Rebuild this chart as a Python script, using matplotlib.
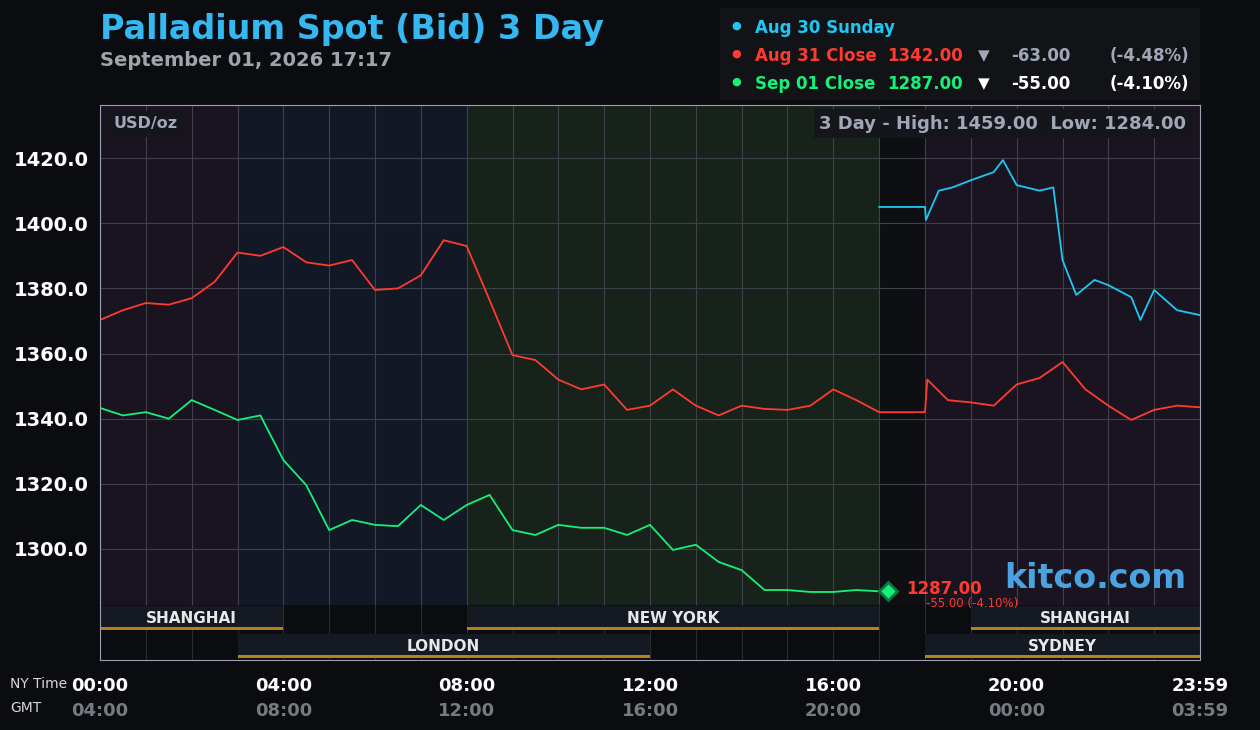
import matplotlib
matplotlib.use("Agg")
import matplotlib.pyplot as plt
import numpy as np

# hours (NY time) and prices
red_t = [0, 0.5, 1, 1.5, 2, 2.5, 3, 3.5, 4, 4.5, 5, 5.5, 6, 6.5, 7, 7.5, 8, 8.5, 9,
         9.5, 10, 10.5, 11, 11.5, 12, 12.5, 13, 13.5, 14, 14.5, 15, 15.5, 16, 16.5,
         17, 18, 18.05, 18.5, 19, 19.5, 20, 20.5, 21, 21.5, 22, 22.5, 23, 23.5, 24]
red_p = [1370.3, 1373.3, 1375.5, 1375.0, 1377.0, 1382.0, 1391.0, 1390.0, 1392.7,
         1388.0, 1387.0, 1388.7, 1379.5, 1380.0, 1384.0, 1394.8, 1393.0, 1376.4,
         1359.5, 1358.0, 1352.0, 1349.0, 1350.5, 1342.7, 1344.0, 1349.0, 1344.0,
         1341.0, 1344.0, 1343.0, 1342.7, 1344.0, 1349.0, 1345.7, 1342.0, 1342.0,
         1352.0, 1345.7, 1345.0, 1344.0, 1350.5, 1352.5, 1357.4, 1349.0, 1344.0,
         1339.6, 1342.7, 1344.0, 1343.5]
green_t = [0, 0.5, 1, 1.5, 2, 2.5, 3, 3.5, 4, 4.5, 5, 5.5, 6, 6.5, 7, 7.5, 8, 8.5,
           9, 9.5, 10, 10.5, 11, 11.5, 12, 12.5, 13, 13.5, 14, 14.5, 15, 15.5, 16,
           16.5, 17, 17.2]
green_p = [1343.3, 1341.0, 1342.0, 1340.0, 1345.7, 1342.7, 1339.6, 1341.0, 1327.3,
           1319.6, 1305.8, 1308.9, 1307.4, 1307.0, 1313.5, 1308.9, 1313.5, 1316.6,
           1305.8, 1304.3, 1307.4, 1306.5, 1306.5, 1304.3, 1307.4, 1299.7, 1301.3,
           1296.0, 1293.5, 1287.4, 1287.4, 1286.8, 1286.8, 1287.4, 1287.0, 1287.0]
blue_t = [17, 18, 18.02, 18.3, 18.6, 19, 19.5, 19.7, 20, 20.5, 20.8, 21, 21.3, 21.7,
          22, 22.5, 22.7, 23, 23.5, 24]
blue_p = [1405.0, 1405.0, 1401.0, 1410.0, 1411.0, 1413.2, 1415.7, 1419.4, 1411.7,
          1410.0, 1411.0, 1388.7, 1378.0, 1382.6, 1381.0, 1377.3, 1370.3, 1379.5,
          1373.3, 1371.8]
yticks = [1300, 1320, 1340, 1360, 1380, 1400, 1420]
ny_labels = ["00:00", "04:00", "08:00", "12:00", "16:00", "20:00", "23:59"]
gmt_labels = ["04:00", "08:00", "12:00", "16:00", "20:00", "00:00", "03:59"]
sessions = [("SHANGHAI", 0, 4, 0), ("NEW YORK", 8, 17, 0), ("SHANGHAI", 19, 24, 0),
            ("LONDON", 3, 12, 1), ("SYDNEY", 18, 24, 1)]
shades = [(0, 3, "#1a1420"), (3, 8, "#121826"), (8, 17, "#16221a"), (18, 24, "#1a1420")]

W, H = 1260, 730
BG = "#0b0c0f"
fig = plt.figure(figsize=(W / 100, H / 100), dpi=100, facecolor=BG)


def P(x, y):
    return x / W, 1 - y / H


def rect(x0, y0, x1, y1):
    return [x0 / W, 1 - y1 / H, (x1 - x0) / W, (y1 - y0) / H]


ax = fig.add_axes(rect(100, 105, 1200, 605))
ax.set_facecolor("#0e0f13")
ax.set_xlim(0, 24)
ax.set_ylim(1282.8, 1436.3)
for a, b, c in shades:
    ax.axvspan(a, b, color=c, zorder=0, lw=0)
ax.set_xticks(np.arange(0, 25, 1))
ax.set_yticks(yticks)
ax.grid(True, color="#3e414a", lw=0.8, zorder=1)
ax.set_xticklabels([])
ax.set_yticklabels(["%.1f" % v for v in yticks], color="white",
                   fontsize=14, fontweight="bold")
ax.tick_params(length=0, pad=8)
for s in ax.spines.values():
    s.set_visible(False)

ax.plot(red_t, red_p, color="#ff3b30", lw=1.3, zorder=3)
ax.plot(blue_t, blue_p, color="#1ec8f5", lw=1.3, zorder=3)
ax.plot(green_t, green_p, color="#16f07a", lw=1.3, zorder=3)
ax.plot(green_t[-1], green_p[-1], "D", ms=9, color="#16f07a", mec="#0a7a40",
        mew=2, zorder=4)
ax.text(0.3, 1430.5, "USD/oz", color="#a0a8b8", fontsize=11.5,
        fontweight="bold", va="center",
        bbox=dict(fc="#15161b", ec="none", pad=4))
ax.text(23.7, 1430.5, "3 Day - High: 1459.00  Low: 1284.00", color="#a0a8b8",
        fontsize=13, fontweight="bold", va="center", ha="right",
        bbox=dict(fc="#15161b", ec="none", pad=4))
ax.text(23.7, 1291, "kitco.com", color="#4aa3e0", fontsize=24,
        fontweight="bold", va="center", ha="right", zorder=5)

# sessions
sx = fig.add_axes(rect(100, 605, 1200, 660))
sx.set_facecolor("#0b0c0f")
sx.set_xlim(0, 24)
sx.set_ylim(2, 0)
sx.set_xticks(np.arange(0, 25, 1))
sx.grid(True, axis="x", color="#2a2c32", lw=0.8)
sx.set_xticklabels([])
sx.set_yticks([])
sx.tick_params(length=0)
for name, a, b, row in sessions:
    sx.add_patch(plt.Rectangle((a, row + 0.05), b - a, 0.85, fc="#151922",
                               ec="none", zorder=2))
    sx.add_patch(plt.Rectangle((a, row + 0.8), b - a, 0.12, fc="#b8801a",
                               ec="none", zorder=3))
    sx.text((a + b) / 2, row + 0.5, name, color="#e8e8e8", fontsize=11,
            fontweight="bold", ha="center", va="center", zorder=4)
for s in sx.spines.values():
    s.set_visible(False)

# frame
fr = fig.add_axes(rect(100, 105, 1200, 660))
fr.patch.set_visible(False)
fr.set_xticks([])
fr.set_yticks([])
for s in fr.spines.values():
    s.set_color("#9aa0b0")

# last price label
fig.text(*P(906, 589), "1287.00", color="#ff3b30", fontsize=12,
         fontweight="bold", va="center", ha="left")
fig.text(*P(926, 603), "-55.00 (-4.10%)", color="#ff3b30", fontsize=8.5,
         va="center", ha="left")

# x labels
for i, (a, b) in enumerate(zip(ny_labels, gmt_labels)):
    x = 100 + i * 4 * 1100 / 24 if i < 6 else 1200
    fig.text(*P(x, 686), a, color="white", fontsize=13, fontweight="bold",
             ha="center", va="center")
    fig.text(*P(x, 711), b, color="#777a80", fontsize=13, fontweight="bold",
             ha="center", va="center")
fig.text(*P(10, 684), "NY Time", color="#d8d8d8", fontsize=10, va="center")
fig.text(*P(10, 708), "GMT", color="#d8d8d8", fontsize=10, va="center")

# title
fig.text(*P(100, 30), "Palladium Spot (Bid) 3 Day", color="#35b8f2",
         fontsize=24, fontweight="bold", va="center")
fig.text(*P(100, 60), "September 01, 2026 17:17", color="#a0a4ac",
         fontsize=14, fontweight="bold", va="center")

# legend box
fig.patches.append(plt.Rectangle(P(720, 100), 480 / W, 92 / H, fc="#111317",
                                 ec="none", transform=fig.transFigure,
                                 figure=fig))
rows = [("Aug 30 Sunday", "#1ec8f5", None, None, None, None),
        ("Aug 31 Close", "#ff3b30", "1342.00", "-63.00", "(-4.48%)", "#a0a8b8"),
        ("Sep 01 Close", "#16f07a", "1287.00", "-55.00", "(-4.10%)", "white")]
for i, (lab, c, val, ch, pct, cc) in enumerate(rows):
    y = 28 + i * 28
    fig.text(*P(736, y - 2), "\u25cf", color=c, fontsize=8, ha="center",
             va="center")
    fig.text(*P(755, y), lab, color=c, fontsize=12, fontweight="bold",
             va="center")
    if val:
        fig.text(*P(887, y), val, color=c, fontsize=12, fontweight="bold",
                 va="center")
        fig.text(*P(984, y), "\u25bc", color=cc, fontsize=11, ha="center",
                 va="center")
        fig.text(*P(1070, y), ch, color=cc, fontsize=12, fontweight="bold",
                 va="center", ha="right")
        fig.text(*P(1189, y), pct, color=cc, fontsize=12, fontweight="bold",
                 va="center", ha="right")

fig.savefig("out.png", dpi=100, facecolor=BG)
